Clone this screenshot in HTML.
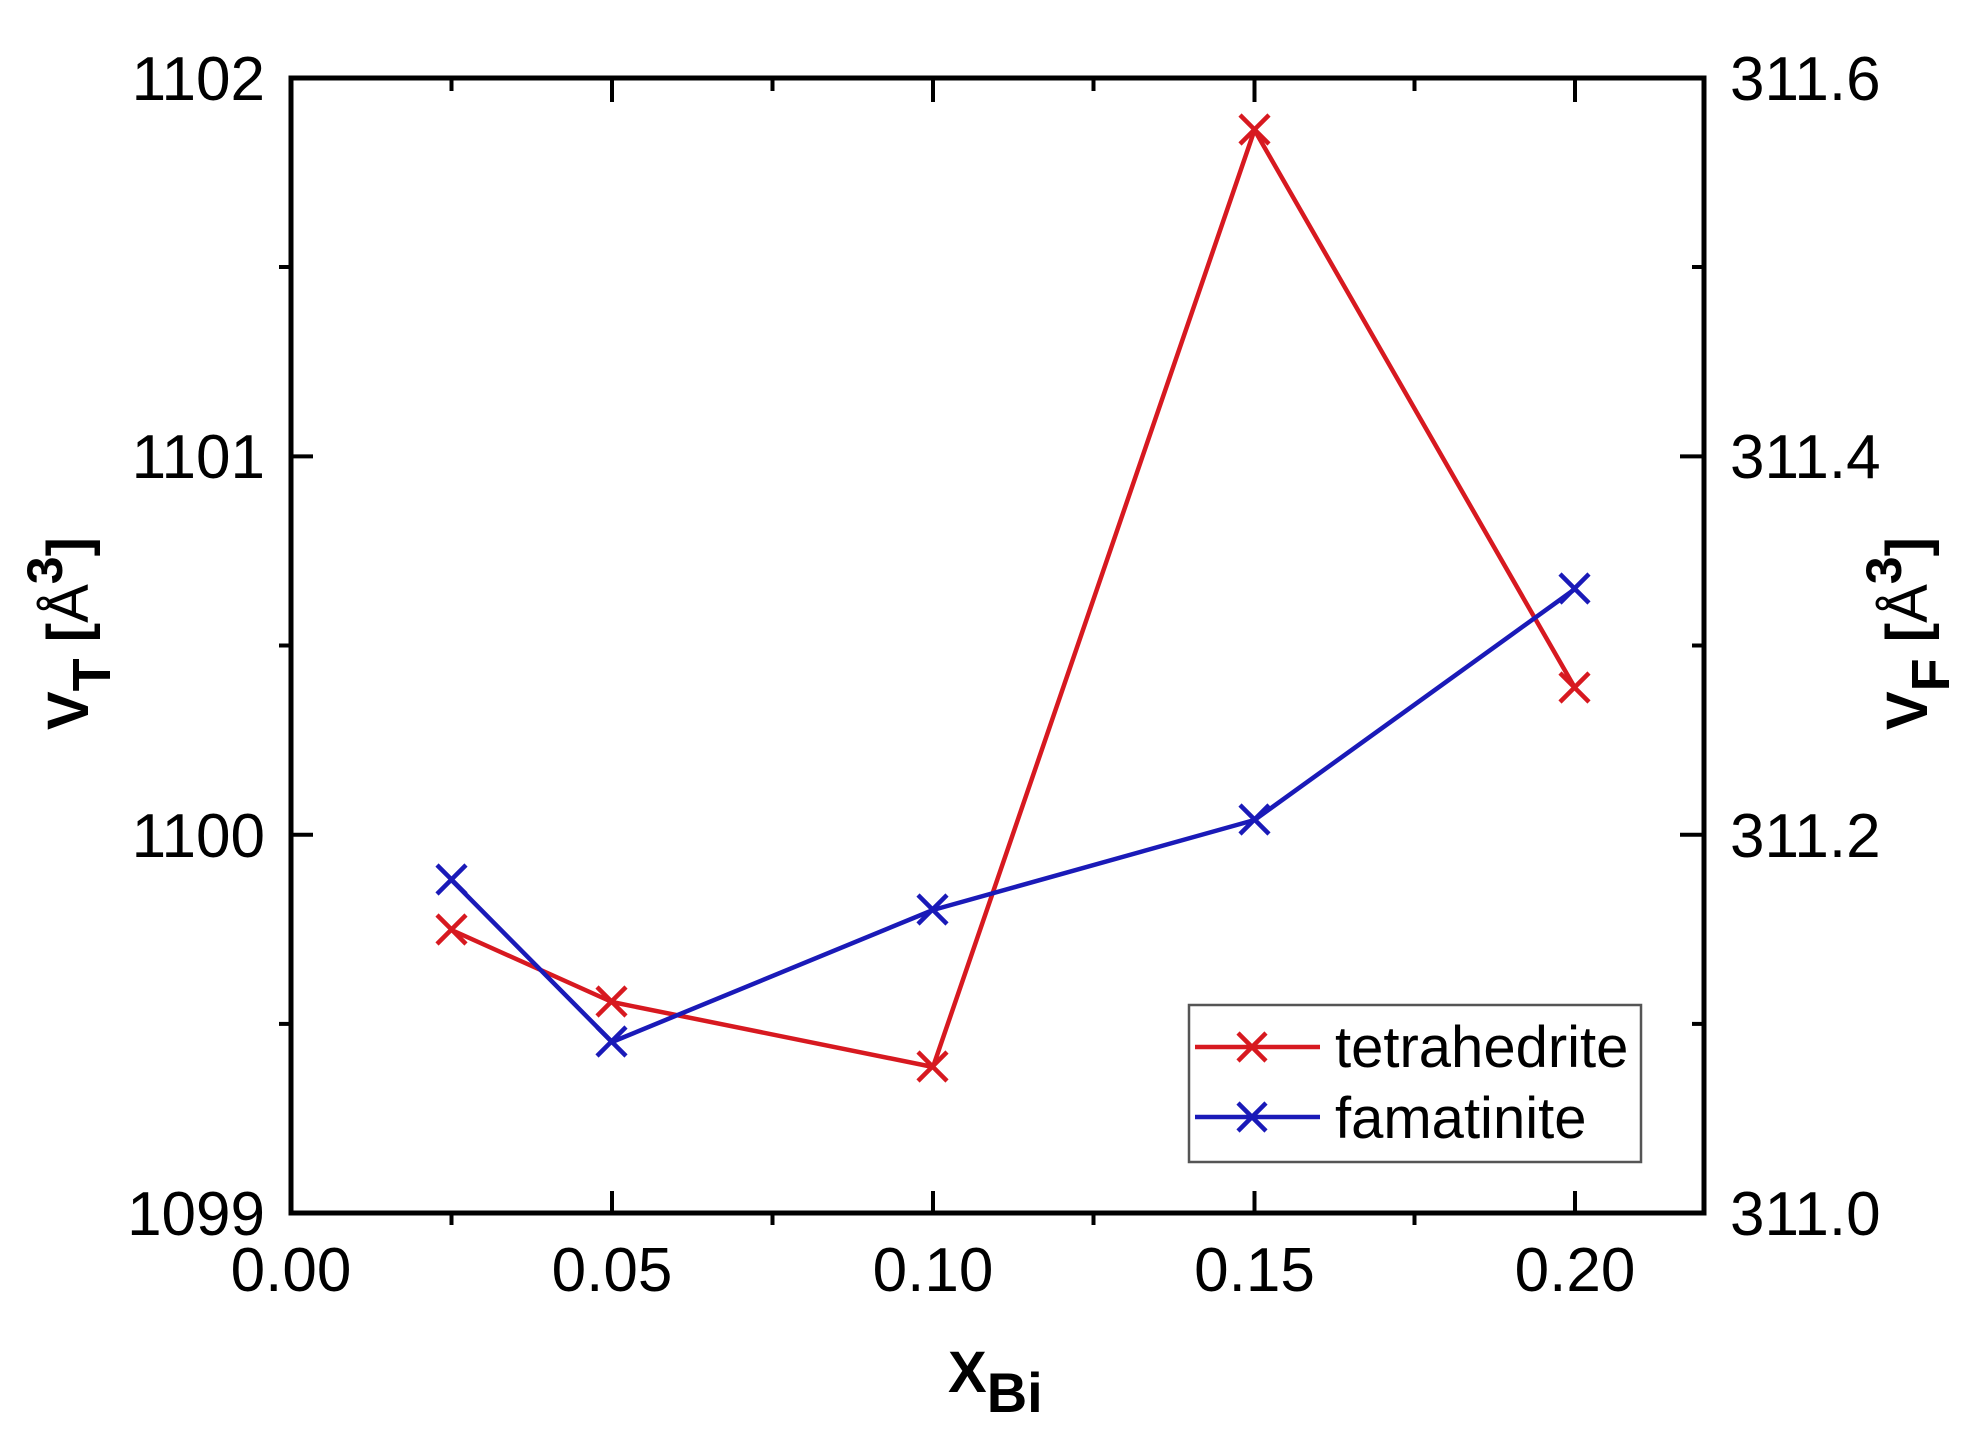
<!DOCTYPE html>
<html><head><meta charset="utf-8"><style>
html,body{margin:0;padding:0;background:#fff;}
svg{display:block;}
text{font-family:"Liberation Sans",Arial,sans-serif;fill:#000;}
</style></head><body>
<svg width="1970" height="1446" viewBox="0 0 1970 1446" xmlns="http://www.w3.org/2000/svg">
<rect width="1970" height="1446" fill="#fff"/>
<g stroke="#000" stroke-width="4">
<line x1="612" y1="1213" x2="612" y2="1191"/>
<line x1="933" y1="1213" x2="933" y2="1191"/>
<line x1="1254.5" y1="1213" x2="1254.5" y2="1191"/>
<line x1="1575" y1="1213" x2="1575" y2="1191"/>
<line x1="451.5" y1="1213" x2="451.5" y2="1225"/>
<line x1="772.5" y1="1213" x2="772.5" y2="1225"/>
<line x1="1093.5" y1="1213" x2="1093.5" y2="1225"/>
<line x1="1414.5" y1="1213" x2="1414.5" y2="1225"/>
<line x1="612" y1="78" x2="612" y2="102"/>
<line x1="933" y1="78" x2="933" y2="102"/>
<line x1="1254.5" y1="78" x2="1254.5" y2="102"/>
<line x1="1575" y1="78" x2="1575" y2="102"/>
<line x1="451.5" y1="78" x2="451.5" y2="91"/>
<line x1="772.5" y1="78" x2="772.5" y2="91"/>
<line x1="1093.5" y1="78" x2="1093.5" y2="91"/>
<line x1="1414.5" y1="78" x2="1414.5" y2="91"/>
<line x1="291" y1="456.4" x2="313" y2="456.4"/>
<line x1="291" y1="834.7" x2="313" y2="834.7"/>
<line x1="291" y1="267" x2="279" y2="267"/>
<line x1="291" y1="645.5" x2="279" y2="645.5"/>
<line x1="291" y1="1023.9" x2="279" y2="1023.9"/>
<line x1="1704" y1="456.4" x2="1680" y2="456.4"/>
<line x1="1704" y1="834.7" x2="1680" y2="834.7"/>
<line x1="1704" y1="267" x2="1692" y2="267"/>
<line x1="1704" y1="645.5" x2="1692" y2="645.5"/>
<line x1="1704" y1="1023.9" x2="1692" y2="1023.9"/>
</g>
<rect x="291" y="78" width="1413" height="1135" fill="none" stroke="#000" stroke-width="5"/>

<g fill="none" stroke-width="4.5" stroke-linejoin="round">
<polyline stroke="#d71920" points="451.5,930 612,1002 933,1067 1254.5,130 1575,688"/>
<polyline stroke="#1a1ab8" points="451.5,880 612,1042 933,910 1254.5,820 1575,589"/>
</g>
<g stroke-width="4.5">
<g stroke="#d71920">
<path d="M437,915 l29,29 M466,915 l-29,29"/>
<path d="M597,987 l29,29 M626,987 l-29,29"/>
<path d="M918,1052 l29,29 M947,1052 l-29,29"/>
<path d="M1240,115 l29,29 M1269,115 l-29,29"/>
<path d="M1560,673 l29,29 M1589,673 l-29,29"/>
</g>
<g stroke="#1a1ab8">
<path d="M437,865 l29,29 M466,865 l-29,29"/>
<path d="M597,1027 l29,29 M626,1027 l-29,29"/>
<path d="M918,895 l29,29 M947,895 l-29,29"/>
<path d="M1240,805 l29,29 M1269,805 l-29,29"/>
<path d="M1560,574 l29,29 M1589,574 l-29,29"/>
</g>
</g>

<rect x="1189" y="1005" width="452" height="157" fill="#fff" stroke="#555" stroke-width="2.5"/>
<g stroke-width="4.5">
<line x1="1195" y1="1047" x2="1320" y2="1047" stroke="#d71920"/>
<path d="M1238,1033 l28,28 M1266,1033 l-28,28" stroke="#d71920"/>
<line x1="1195" y1="1117" x2="1320" y2="1117" stroke="#1a1ab8"/>
<path d="M1238,1103 l28,28 M1266,1103 l-28,28" stroke="#1a1ab8"/>
</g>
<text x="1335" y="1067" font-size="58">tetrahedrite</text>
<text x="1335" y="1138" font-size="58">famatinite</text>

<g font-size="62" text-anchor="end">
<text x="265" y="100">1102</text>
<text x="265" y="478">1101</text>
<text x="265" y="857">1100</text>
<text x="265" y="1235">1099</text>
</g>
<g font-size="62" text-anchor="start">
<text x="1730" y="100">311.6</text>
<text x="1730" y="478">311.4</text>
<text x="1730" y="857">311.2</text>
<text x="1730" y="1235">311.0</text>
</g>
<g font-size="62" text-anchor="middle">
<text x="291" y="1291">0.00</text>
<text x="612" y="1291">0.05</text>
<text x="933" y="1291">0.10</text>
<text x="1254.5" y="1291">0.15</text>
<text x="1575" y="1291">0.20</text>
</g>

<text x="948" y="1392" font-size="58" font-weight="bold">X<tspan font-size="56" dy="20">Bi</tspan></text>
<text transform="translate(88,730) rotate(-90)" font-size="58" font-weight="bold">V<tspan font-size="54" dy="22">T</tspan><tspan dy="-22"> [</tspan><tspan font-weight="normal">Å</tspan><tspan dy="-26" font-size="50">3</tspan><tspan dy="26">]</tspan></text>
<text transform="translate(1927,730) rotate(-90)" font-size="58" font-weight="bold">V<tspan font-size="54" dy="22">F</tspan><tspan dy="-22"> [</tspan><tspan font-weight="normal">Å</tspan><tspan dy="-26" font-size="50">3</tspan><tspan dy="26">]</tspan></text>
</svg>
</body></html>
